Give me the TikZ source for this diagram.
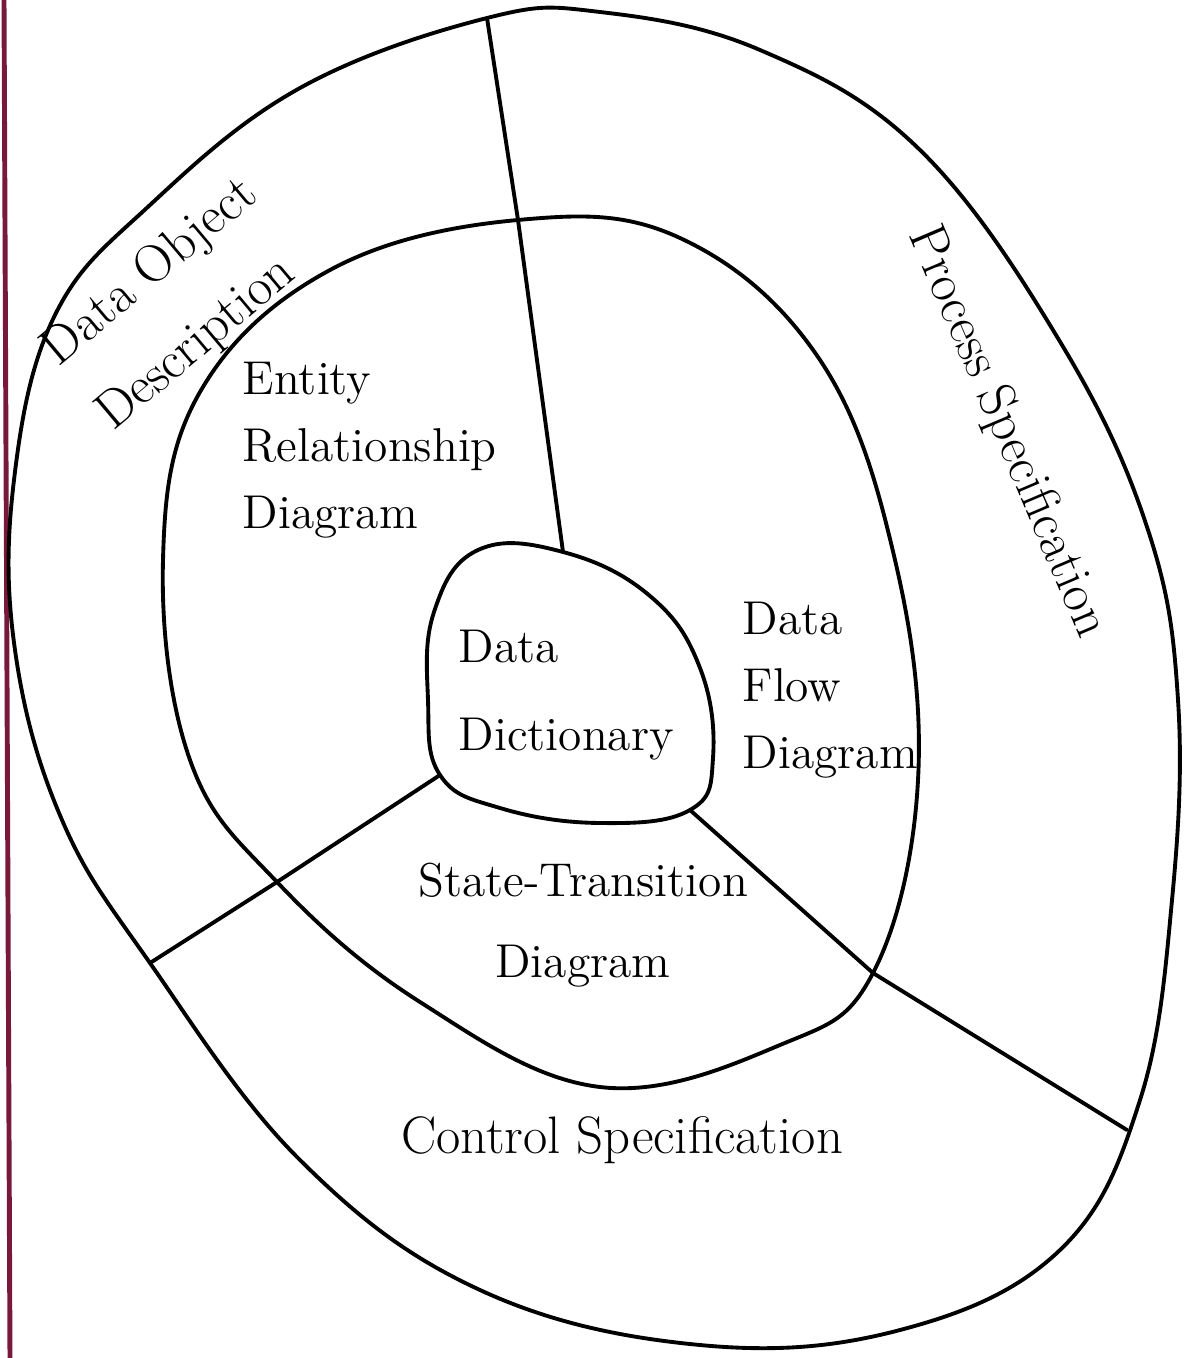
\documentclass[tikz,border=0pt]{standalone}
\usepackage{tikz}
\usetikzlibrary{calc}

\definecolor{marginred}{RGB}{120,25,60}

\begin{document}
\begin{tikzpicture}[
  x=0.01cm, y=-0.01cm,
  ring/.style={line width=1.1pt, line join=round},
  cut/.style={line width=1.1pt, line cap=round},
  lbl/.style={align=left, inner sep=0pt, font=\fontsize{13.5}{19}\selectfont},
  big/.style={align=left, inner sep=0pt, font=\fontsize{15}{22}\selectfont}
]
\fill[white] (0,0) rectangle (1184,1358);
\useasboundingbox (0,0) rectangle (1184,1358);

% ---- Page margin ----
\draw[marginred, line width=1.4pt] (4,0) -- (10,1358);

% ---- Outer ring ----
\draw[ring] plot[smooth cycle, tension=0.65] coordinates {
  (487,18) (300,88) (150,205) (55,315) (14,480) (15,650) (62,820)
  (150,963) (300,1160) (480,1290) (700,1345) (900,1330) (1060,1250)
  (1140,1100) (1172,900) (1178,700) (1148,530) (1062,345) (920,150)
  (760,50) (600,12)};

% ---- Middle ring ----
\draw[ring] plot[smooth cycle, tension=0.65] coordinates {
  (518,220) (330,270) (200,392) (163,560) (190,760) (277,882)
  (420,1002) (600,1087) (780,1045) (873,973) (918,780) (895,560)
  (820,360) (680,238)};

% ---- Core blob ----
\draw[ring] plot[smooth cycle, tension=0.7] coordinates {
  (563,552) (650,596) (700,668) (713,758) (690,810) (600,823)
  (500,808) (440,775) (428,700) (434,612) (478,550)};

% ---- Divider points ----
\coordinate (oTop)   at (487,18);
\coordinate (mTop)   at (518,220);
\coordinate (cTop)   at (563,552);
\coordinate (oLeft)  at (150,963);
\coordinate (mLeft)  at (277,882);
\coordinate (cLeft)  at (440,775);
\coordinate (oRight) at (1127,1130);
\coordinate (mRight) at (873,973);
\coordinate (cRight) at (690,810);

% ---- Dividers ----
\draw[cut] (oTop) -- (mTop) -- (cTop);
\draw[cut] (cLeft) -- (mLeft) -- (oLeft);
\draw[cut] (cRight) -- (mRight) -- (oRight);

% ---- Labels ----
\node[big, rotate=40, font=\fontsize{15}{24}\selectfont] (dod) at (178,305)
  {Data Object\\Description};
\node[big, rotate=-67] (pspec) at (1007,432) {Process Specification};
\node[lbl, anchor=west] (erd) at (242,450)
  {Entity\\Relationship\\Diagram};
\node[lbl, anchor=west] (dfd) at (742,690)
  {Data\\Flow\\Diagram};
\node[lbl, anchor=west, font=\fontsize{13.5}{25}\selectfont] (ddict) at (458,695)
  {Data\\Dictionary};
\node[lbl, align=center, font=\fontsize{13.5}{23}\selectfont] (std) at (583,925)
  {State-Transition\\Diagram};
\node[big] (cspec) at (622,1140) {Control Specification};
\end{tikzpicture}
\end{document}
